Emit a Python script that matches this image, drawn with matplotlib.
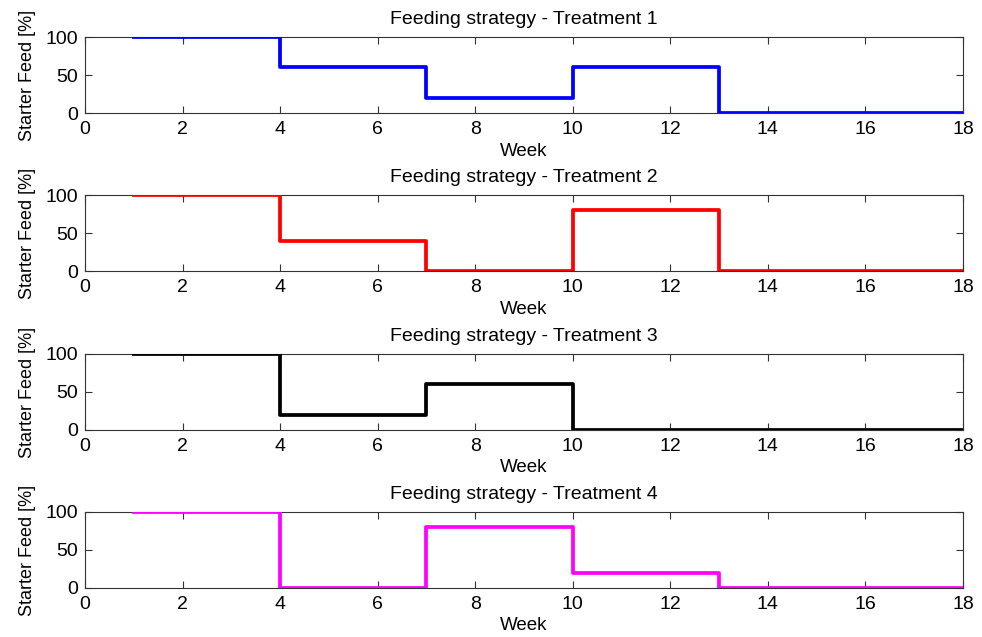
"""
Feeding strategy step plots for four treatments
"""
import matplotlib
matplotlib.use('Agg')
import matplotlib.pyplot as plt

# week boundaries where the feed share changes
weeks = [1, 4, 7, 10, 13, 18]

# starter feed share [%] per period (last value repeated for step end)
treatment_1 = [100, 60, 20, 60, 0, 0]
treatment_2 = [100, 40, 0, 80, 0, 0]
treatment_3 = [100, 20, 60, 0, 0, 0]
treatment_4 = [100, 0, 80, 20, 0, 0]

treatments = [treatment_1, treatment_2, treatment_3, treatment_4]
titles = ['Feeding strategy - Treatment %d' % (i + 1) for i in range(4)]
colors = ['#0000ff', '#ff0000', '#000000', '#ff00ff']

x_ticks = list(range(0, 19, 2))
y_ticks = [0, 50, 100]

plt.rcParams['font.family'] = ['Liberation Sans', 'DejaVu Sans']

fig = plt.figure(figsize=(9.82, 6.37), dpi=100)

left = 85 / 982
width = (963 - 85) / 982
height = 76 / 637
tops = [37, 195, 354, 512]

for top, values, title, color in zip(tops, treatments, titles, colors):
    bottom = 1 - (top + 76) / 637
    ax = fig.add_axes([left, bottom, width, height])
    ax.plot(weeks, values, drawstyle='steps-post', color=color,
            linewidth=2.7, zorder=3)
    ax.set_xlim(0, 18)
    ax.set_ylim(0, 100)
    ax.set_xticks(x_ticks)
    ax.set_yticks(y_ticks)
    ax.tick_params(direction='in', top=True, right=True, length=5,
                   width=0.8, color='#333333', labelsize=14)
    ax.tick_params(axis='x', pad=6)
    ax.tick_params(axis='y', pad=5)
    for spine in ax.spines.values():
        spine.set_color('#333333')
        spine.set_linewidth(0.8)
    ax.set_title(title, fontsize=14, pad=9.5)
    ax.set_xlabel('Week', fontsize=13.5, labelpad=3)
    ax.set_ylabel('Starter Feed [%]', fontsize=13, labelpad=7)

fig.savefig('out.png', dpi=100)
plt.close()
